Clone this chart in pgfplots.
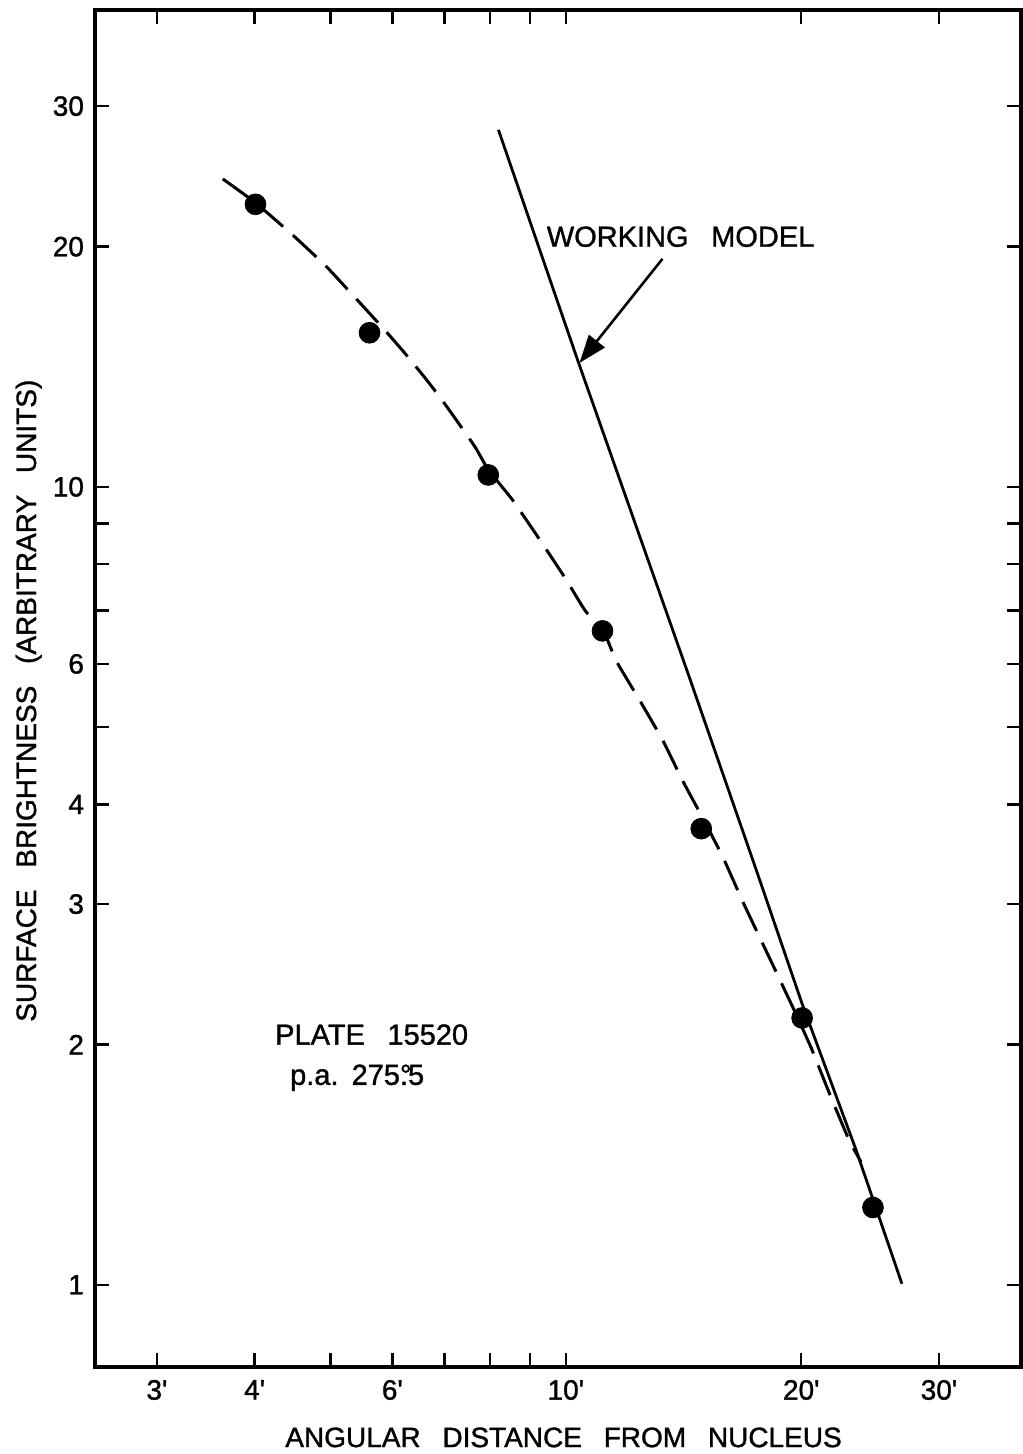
\documentclass[border=0pt]{standalone}
\usepackage{fontspec}
\setmainfont{Liberation Sans}[FakeBold=1.2]
\newfontfamily\lettering[WordSpace=2.8,FakeBold=1.2]{Liberation Sans}
\usepackage{pgfplots}
\pgfplotsset{compat=1.18}
\usetikzlibrary{arrows.meta}

\begin{document}
\begin{tikzpicture}
\begin{axis}[
  xmode=log, ymode=log,
  scale only axis, width=463pt, height=678.5pt,
  xmin=2.5, xmax=38.2, ymin=0.789, ymax=39.6,
  axis line style={line width=1.7pt},
  tick style={black, line width=1.2pt},
  tick align=inside,
  major tick length=7pt,
  xminorticks=false, yminorticks=false,
  xtick={3,4,5,6,7,8,9,10,20,30},
  xticklabels={3\textquotesingle,4\textquotesingle,,6\textquotesingle,,,,10\textquotesingle,20\textquotesingle,30\textquotesingle},
  ytick={1,2,3,4,5,6,7,8,9,10,20,30},
  yticklabels={1,2,3,4,,6,,,,10,20,30},
  /pgf/number format/assume math mode=true,
  tick label style={font=\fontsize{14}{17}\selectfont},
  xticklabel style={yshift=-3pt},
  yticklabel style={xshift=-2pt},
  label style={font=\lettering\fontsize{14}{17}\selectfont},
  xlabel={ANGULAR DISTANCE FROM NUCLEUS},
  ylabel={SURFACE BRIGHTNESS (ARBITRARY UNITS)},
  xlabel style={at={(axis description cs:0.506,-0.059)}, anchor=base},
  ylabel style={at={(axis description cs:-0.0637,0.491)}, anchor=base},
]

% empirical fit through the measured profile (dashed)
\addplot[black, line width=1.5pt, dash pattern=on 16pt off 6.5pt, smooth, tension=0.3] coordinates {
  (3.642,24.32) (4.012,22.69) (4.502,20.57) (4.960,18.81) (5.498,16.86)
  (5.848,15.78) (6.202,14.77) (6.636,13.62) (7.017,12.67) (7.643,11.25)
  (7.964,10.50) (8.546,9.632) (9.226,8.633) (9.958,7.714) (10.59,6.993)
  (11.17,6.600) (11.60,6.052) (12.42,5.408) (13.29,4.820) (14.13,4.269)
  (15.08,3.793) (15.94,3.408) (16.91,2.994) (18.47,2.496) (19.58,2.211)
  (20.59,1.982) (21.71,1.741) (23.02,1.519) (23.85,1.426)
};

% working model
\addplot[black, line width=1.4pt] coordinates {
  (8.20,28.02) (10.35,14.43) (14.38,5.78)
  (17.52,3.31) (20.05,2.25) (23.50,1.476) (26.90,1.003)
};

% measured surface brightness
\addplot[only marks, mark=*, mark size=5.2pt, black] coordinates {
  (4.01,22.6) (5.61,15.6) (7.96,10.35) (11.14,6.60)
  (14.9,3.73) (20.05,2.16) (24.7,1.25)
};

\draw[line width=1.3pt, -{Triangle[length=14pt,width=10pt]}]
  (axis cs:13.29,19.31) -- (axis cs:10.41,14.30);
\node[anchor=base west, inner sep=0pt, font=\lettering\fontsize{14.5}{17}\selectfont]
  at (axis cs:9.445,20.0) {WORKING MODEL};
\node[anchor=base west, inner sep=0pt, font=\lettering\fontsize{14.5}{17}\selectfont]
  at (axis cs:4.245,2.0) {PLATE 15520};
\node[anchor=base west, inner sep=0pt, font=\fontsize{14.5}{17}\selectfont]
  at (axis cs:4.436,1.781) {p.a.\hspace{0.45em}275\rlap{°}.5};

\coordinate (bl) at (rel axis cs:0,0);
\coordinate (tr) at (rel axis cs:1,1);
\end{axis}
\pgfresetboundingbox
\useasboundingbox ([shift={(-47.5pt,-43.5pt)}]bl) rectangle ([shift={(0.6pt,5pt)}]tr);
\end{tikzpicture}
\end{document}
